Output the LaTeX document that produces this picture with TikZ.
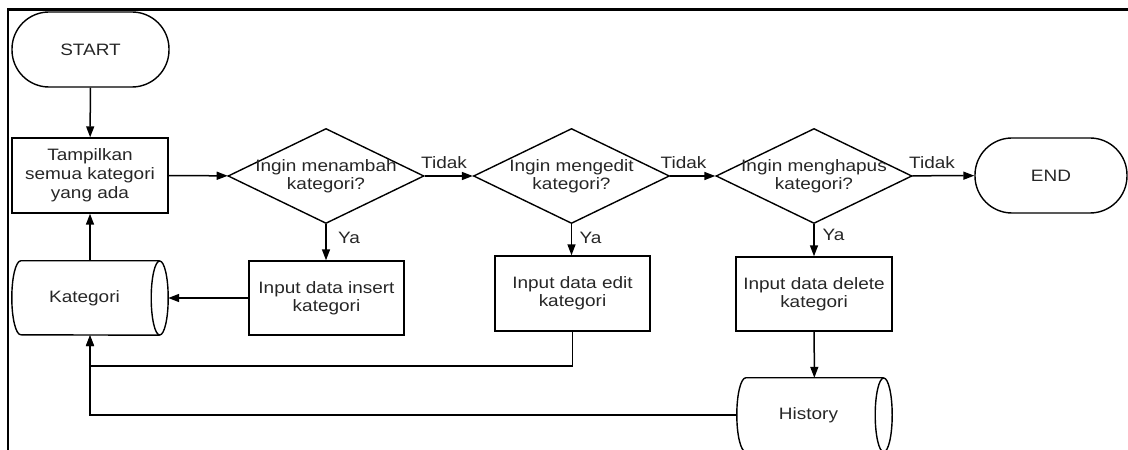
\documentclass[tikz,border=0pt]{standalone}
\usepackage{fontspec}
\setmainfont{Liberation Sans}[FakeStretch=1.15]
\usetikzlibrary{shapes.geometric,arrows.meta,calc}
\tikzset{
 every node/.style={font=\fontsize{16.5}{18}\selectfont, text=black!85},
 box/.style={draw, rectangle, line width=1.4pt, inner sep=0pt, align=center},
 term/.style={draw, rectangle, rounded corners=37pt, line width=1.4pt, inner sep=0pt, minimum height=75pt},
 dec/.style={draw, diamond, line width=1.4pt, inner sep=0pt, minimum width=196pt, minimum height=95pt},
 store/.style={rectangle, inner sep=0pt, minimum width=156pt, minimum height=74pt},
 flow/.style={line width=1.5pt, -{Triangle[length=11pt,width=8pt]}},
 lbl/.style={inner sep=0pt, align=center},
}
\newcommand\drawstore[1]{%
 \draw[line width=1.4pt] ($(#1.north east)+(-8.5,0)$) -- ($(#1.north west)+(9,0)$) arc[start angle=90,end angle=270,x radius=9pt,y radius=37pt] -- ($(#1.south east)+(-8.5,0)$);
 \draw[line width=1.4pt] ($(#1.east)+(-8.5,0)$) ellipse[x radius=8.5pt, y radius=37pt];}
\begin{document}
\begin{tikzpicture}[x=1pt,y=1pt]
\useasboundingbox (0,0) rectangle (1128,450);
\draw[line width=2.5pt] (8,0) -- (8,440.5) -- (1128,440.5);
% nodes
\node[term, minimum width=157pt] (start) at (90.5,400.5) {START};
\node[box, minimum width=156pt, minimum height=75pt, font=\fontsize{16.5}{19}\selectfont] (show) at (90,274.5) {Tampilkan\\semua kategori\\yang ada};
\node[store, label={[lbl, xshift=-5.5pt]center:Kategori}] (kat) at (90,152) {}; \drawstore{kat}
\node[dec, label={[lbl]center:{Ingin menambah\\kategori?}}] (d1) at (326,274) {};
\node[dec, label={[lbl]center:{Ingin mengedit\\kategori?}}] (d2) at (571.5,274) {};
\node[dec, label={[lbl]center:{Ingin menghapus\\kategori?}}] (d3) at (814,274) {};
\node[term, minimum width=152pt] (end) at (1051,274.5) {END};
\node[box, minimum width=155pt, minimum height=74pt] (ins) at (326.5,152) {Input data insert\\kategori};
\node[box, minimum width=155pt, minimum height=75pt] (edt) at (572.5,156.5) {Input data edit\\kategori};
\node[box, minimum width=156pt, minimum height=74pt] (del) at (814,156) {Input data delete\\kategori};
\node[store, minimum width=155pt, label={[lbl, xshift=-6pt]center:History}] (his) at (814.5,35) {}; \drawstore{his}
% labels
\node[lbl] (t1) at (444,287) {Tidak};
\node[lbl] (t2) at (683.5,287) {Tidak};
\node[lbl] (t3) at (932,287) {Tidak};
\node[lbl] (y1) at (349,212) {Ya};
\node[lbl] (y2) at (590.5,212) {Ya};
\node[lbl] (y3) at (833.5,215) {Ya};
% connectors
\draw[flow] (start) -- (show);
\draw[flow] (kat) -- (show);
\draw[flow] (show) -- (d1);
\draw[flow] (d1) -- (d2);
\draw[flow] (d2) -- (d3);
\draw[flow] (d3) -- (end);
\draw[flow] (d1.south) -- (d1.south |- ins.north);
\draw[flow] (d2.south) -- (d2.south |- edt.north);
\draw[flow] (d3.south) -- (d3.south |- del.north);
\draw[flow] (ins.west) -- (kat.east);
\draw[flow] (edt.south) |- ($(kat.south)+(0,-31)$) -- (kat.south);
\draw[flow] (his.west) -| (kat.south);
\draw[flow] (del) -- (his);
\end{tikzpicture}
\end{document}
